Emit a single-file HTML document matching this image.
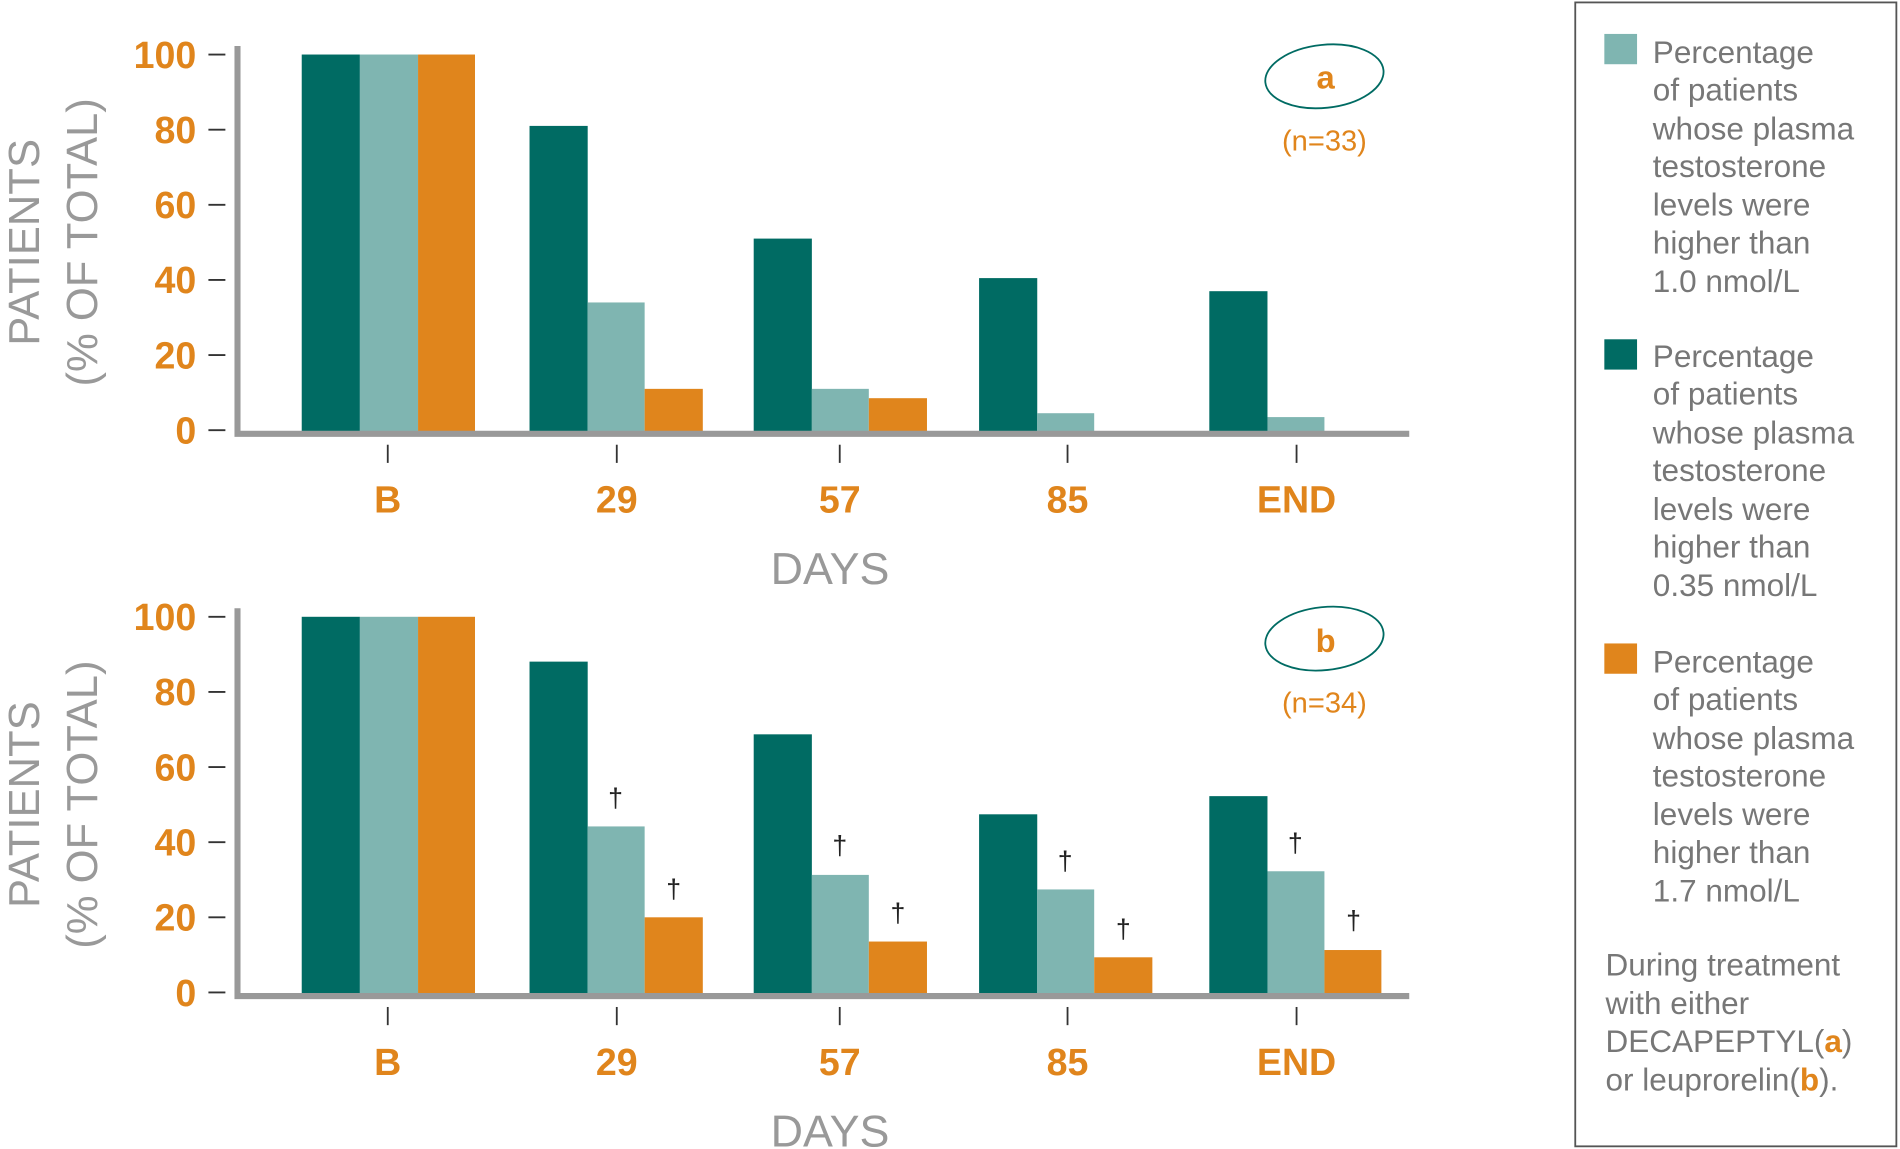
<!DOCTYPE html>
<html><head><meta charset="utf-8"><style>html,body{margin:0;padding:0;background:#fff}svg{display:block}</style></head><body>
<svg width="1900" height="1149" viewBox="0 0 1568 948.2" preserveAspectRatio="none" xmlns="http://www.w3.org/2000/svg" font-family="Liberation Sans, sans-serif">
<g id="top">
<text transform="translate(32,200) rotate(-90)" text-anchor="middle" font-size="36" fill="#999">PATIENTS</text>
<text transform="translate(80,200) rotate(-90)" text-anchor="middle" font-size="36" fill="#999">(% OF TOTAL)</text>
<g font-size="31" font-weight="bold" fill="#E0851C" text-anchor="end">
<text x="162" y="56">100</text><text x="162" y="118">80</text><text x="162" y="180">60</text><text x="162" y="242">40</text><text x="162" y="304">20</text><text x="162" y="366">0</text></g>
<g stroke="#333" stroke-width="1.5"><line x1="172" x2="186" y1="45" y2="45"/><line x1="172" x2="186" y1="107" y2="107"/><line x1="172" x2="186" y1="169" y2="169"/><line x1="172" x2="186" y1="231" y2="231"/><line x1="172" x2="186" y1="293" y2="293"/><line x1="172" x2="186" y1="355" y2="355"/>
<line x1="320" x2="320" y1="367" y2="382"/><line x1="509" x2="509" y1="367" y2="382"/><line x1="693" x2="693" y1="367" y2="382"/><line x1="881" x2="881" y1="367" y2="382"/><line x1="1070" x2="1070" y1="367" y2="382"/></g>
<rect x="249" y="45" width="48" height="313" fill="#006B63"/><rect x="297" y="45" width="48" height="313" fill="#7FB5B1"/><rect x="345" y="45" width="47" height="313" fill="#E0851C"/>
<rect x="437" y="103.9" width="48" height="254" fill="#006B63"/><rect x="485" y="249.6" width="47" height="108" fill="#7FB5B1"/><rect x="532" y="320.9" width="48" height="37" fill="#E0851C"/>
<rect x="622" y="196.9" width="48" height="161" fill="#006B63"/><rect x="670" y="320.9" width="47" height="37" fill="#7FB5B1"/><rect x="717" y="328.6" width="48" height="30" fill="#E0851C"/>
<rect x="808" y="229.5" width="48" height="129" fill="#006B63"/><rect x="856" y="341" width="47" height="17" fill="#7FB5B1"/>
<rect x="998" y="240.3" width="48" height="118" fill="#006B63"/><rect x="1046" y="344.2" width="47" height="14" fill="#7FB5B1"/>
<path d="M196 38 V358 H1163" fill="none" stroke="#999" stroke-width="5"/>
<g font-size="31" font-weight="bold" fill="#E0851C" text-anchor="middle"><text x="320" y="423">B</text><text x="509" y="423">29</text><text x="693" y="423">57</text><text x="881" y="423">85</text><text x="1070" y="423">END</text></g>
<text x="685" y="482" font-size="37" fill="#999" text-anchor="middle">DAYS</text>
<ellipse cx="1093" cy="63" rx="49" ry="26" fill="none" stroke="#006B63" stroke-width="1.5" transform="rotate(-6 1093 63)"/>
<text x="1094" y="73" font-size="27" font-weight="bold" fill="#E0851C" text-anchor="middle">a</text>
<text x="1093" y="124" font-size="24" fill="#E0851C" text-anchor="middle">(n=33)</text>
</g>
<g id="bot">
<text transform="translate(32,664) rotate(-90)" text-anchor="middle" font-size="36" fill="#999">PATIENTS</text>
<text transform="translate(80,664) rotate(-90)" text-anchor="middle" font-size="36" fill="#999">(% OF TOTAL)</text>
<g font-size="31" font-weight="bold" fill="#E0851C" text-anchor="end">
<text x="162" y="520">100</text><text x="162" y="582">80</text><text x="162" y="644">60</text><text x="162" y="706">40</text><text x="162" y="768">20</text><text x="162" y="830">0</text></g>
<g stroke="#333" stroke-width="1.5"><line x1="172" x2="186" y1="509" y2="509"/><line x1="172" x2="186" y1="571" y2="571"/><line x1="172" x2="186" y1="633" y2="633"/><line x1="172" x2="186" y1="695" y2="695"/><line x1="172" x2="186" y1="757" y2="757"/><line x1="172" x2="186" y1="819" y2="819"/>
<line x1="320" x2="320" y1="831" y2="846"/><line x1="509" x2="509" y1="831" y2="846"/><line x1="693" x2="693" y1="831" y2="846"/><line x1="881" x2="881" y1="831" y2="846"/><line x1="1070" x2="1070" y1="831" y2="846"/></g>
<rect x="249" y="509" width="48" height="313" fill="#006B63"/><rect x="297" y="509" width="48" height="313" fill="#7FB5B1"/><rect x="345" y="509" width="47" height="313" fill="#E0851C"/>
<rect x="437" y="546" width="48" height="276" fill="#006B63"/><rect x="485" y="682" width="47" height="140" fill="#7FB5B1"/><rect x="532" y="757" width="48" height="65" fill="#E0851C"/>
<rect x="622" y="606" width="48" height="216" fill="#006B63"/><rect x="670" y="722" width="47" height="100" fill="#7FB5B1"/><rect x="717" y="777" width="48" height="45" fill="#E0851C"/>
<rect x="808" y="672" width="48" height="150" fill="#006B63"/><rect x="856" y="734" width="47" height="88" fill="#7FB5B1"/><rect x="903" y="790" width="48" height="32" fill="#E0851C"/>
<rect x="998" y="657" width="48" height="165" fill="#006B63"/><rect x="1046" y="719" width="47" height="103" fill="#7FB5B1"/><rect x="1093" y="784" width="47" height="38" fill="#E0851C"/>
<path d="M196 502 V822 H1163" fill="none" stroke="#999" stroke-width="5"/>
<g font-size="22" fill="#222" text-anchor="middle"><text x="508" y="666">†</text><text x="556" y="741">†</text><text x="693" y="705">†</text><text x="741" y="761">†</text><text x="879" y="718">†</text><text x="927" y="774">†</text><text x="1069" y="703">†</text><text x="1117" y="767">†</text></g>
<g font-size="31" font-weight="bold" fill="#E0851C" text-anchor="middle"><text x="320" y="887">B</text><text x="509" y="887">29</text><text x="693" y="887">57</text><text x="881" y="887">85</text><text x="1070" y="887">END</text></g>
<text x="685" y="946" font-size="37" fill="#999" text-anchor="middle">DAYS</text>
<ellipse cx="1093" cy="527" rx="49" ry="26" fill="none" stroke="#006B63" stroke-width="1.5" transform="rotate(-6 1093 527)"/>
<text x="1094" y="538" font-size="27" font-weight="bold" fill="#E0851C" text-anchor="middle">b</text>
<text x="1093" y="588" font-size="24" fill="#E0851C" text-anchor="middle">(n=34)</text>
</g>
<rect x="1300" y="2" width="265" height="944" fill="none" stroke="#555" stroke-width="1.5"/>
<rect x="1324" y="28" width="27" height="25" fill="#7FB5B1"/>
<rect x="1324" y="280" width="27" height="25" fill="#006B63"/>
<rect x="1324" y="531" width="27" height="25" fill="#E0851C"/>
<g font-size="26" fill="#777">
<text x="1364" y="52">Percentage</text><text x="1364" y="83">of patients</text><text x="1364" y="115">whose plasma</text><text x="1364" y="146">testosterone</text><text x="1364" y="178">levels were</text><text x="1364" y="209">higher than</text><text x="1364" y="241">1.0 nmol/L</text>
<text x="1364" y="303">Percentage</text><text x="1364" y="334">of patients</text><text x="1364" y="366">whose plasma</text><text x="1364" y="397">testosterone</text><text x="1364" y="429">levels were</text><text x="1364" y="460">higher than</text><text x="1364" y="492">0.35 nmol/L</text>
<text x="1364" y="555">Percentage</text><text x="1364" y="586">of patients</text><text x="1364" y="618">whose plasma</text><text x="1364" y="649">testosterone</text><text x="1364" y="681">levels were</text><text x="1364" y="712">higher than</text><text x="1364" y="744">1.7 nmol/L</text>
<text x="1325" y="805">During treatment</text><text x="1325" y="837">with either</text><text x="1325" y="868">DECAPEPTYL(<tspan fill="#E0851C" font-weight="bold">a</tspan>)</text><text x="1325" y="900">or leuprorelin(<tspan fill="#E0851C" font-weight="bold">b</tspan>).</text>
</g>
</svg>
</body></html>
